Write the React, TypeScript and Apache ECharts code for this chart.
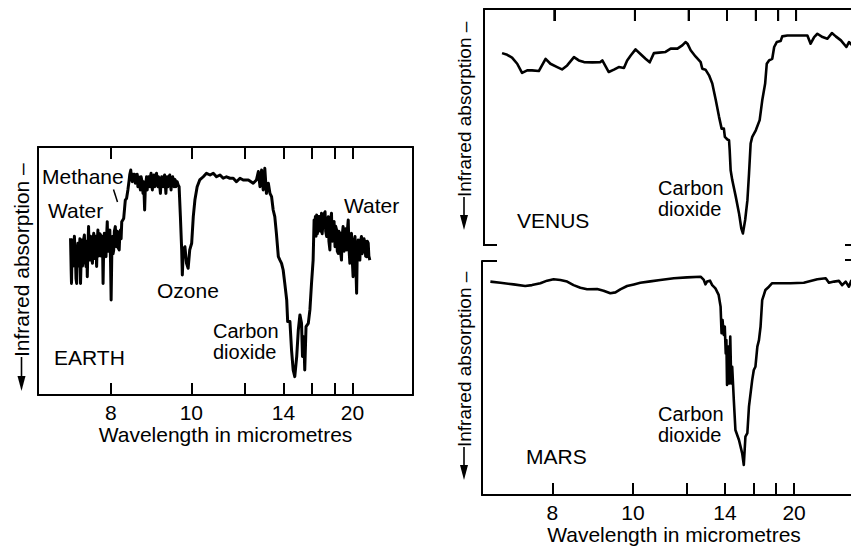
import React, { useEffect, useRef } from "react";
import * as echarts from "echarts";

// x values are wavenumbers (cm^-1); axis labels show wavelength in micrometres
const tickWavelengths = [8, 10, 12, 14, 16, 18, 20];
const labelWavelengths = [8, 10, 14, 20];

// relative signal (0 = bottom of panel, 100 = top); down = more absorption
const earthSpectrum: [number, number][] = [
  [1375, 63.2], [1373, 50], [1372, 45.0], [1370, 60], [1369, 62.5], [1367, 52], [1365, 54.4], [1363, 64],
  [1361, 63.9], [1359, 52], [1358, 47], [1356, 45.0], [1354, 58], [1352, 61.2], [1350, 52], [1348, 55.8],
  [1346, 63], [1344, 45.0], [1342, 55], [1340, 62.5], [1338, 52], [1336, 54.4], [1334, 63], [1332, 64.5],
  [1330, 56], [1327, 51.8], [1325, 62], [1323, 47.7], [1321, 60], [1319, 67.9], [1317, 56], [1315, 54.4],
  [1313, 64], [1311, 62.5], [1309, 55], [1307, 53.1], [1305, 63], [1303, 65.2], [1301, 55], [1299, 58.5],
  [1297, 64], [1294, 51.8], [1292, 62], [1290, 66.5], [1288, 56], [1286, 57.1], [1284, 65], [1282, 64.5],
  [1280, 56], [1278, 58.5], [1276, 64], [1274, 45.0], [1272, 60], [1270, 65.2], [1268, 57], [1265, 55.8],
  [1263, 64], [1261, 69.9], [1259, 58], [1257, 61.2], [1255, 66], [1253, 66.5], [1251, 55], [1249, 38.3],
  [1247, 56], [1245, 63.9], [1243, 57], [1241, 58.5], [1239, 66], [1236, 67.9], [1234, 60], [1232, 59.8],
  [1230, 66], [1228, 65.2], [1226, 59], [1224, 58.5], [1222, 65], [1220, 66.5], [1218, 63], [1216, 69.9],
  [1210, 71.2], [1205, 78.6], [1201, 79.3], [1197, 82.7],
  [1193, 86.7], [1191, 89], [1188, 90.7], [1186, 87], [1183, 86.0], [1181, 89], [1178, 87.4], [1176, 89],
  [1174, 85.4], [1172, 88.5], [1170, 86.7], [1168, 89], [1166, 84.0], [1164, 88], [1162, 87.4], [1160, 84],
  [1158, 82.7], [1156, 88], [1154, 86.7], [1152, 84], [1150, 81.3], [1148, 86], [1145, 74.6], [1143, 83],
  [1141, 85.4], [1139, 88], [1137, 82.7], [1135, 87], [1133, 88.0], [1131, 85], [1129, 84.0], [1127, 88],
  [1125, 89.4], [1123, 85], [1121, 82.7], [1119, 87], [1116, 88.7], [1114, 84], [1112, 85.4], [1110, 88],
  [1108, 89.4], [1106, 85], [1104, 84.0], [1102, 88], [1100, 87.4], [1098, 84], [1096, 81.3], [1094, 86],
  [1092, 88.0], [1090, 85], [1087, 84.0], [1085, 88], [1083, 88.7], [1081, 85], [1079, 81.3], [1077, 86],
  [1075, 88.0], [1073, 84], [1071, 85.4], [1069, 88], [1067, 88.7], [1065, 85], [1063, 82.7], [1061, 87],
  [1058, 88.0], [1056, 85], [1054, 84.0], [1052, 87], [1050, 86.7], [1048, 84], [1046, 85.4], [1044, 86],
  [1041, 84.7], [1038, 84.0], [1034, 71.9], [1030, 58.5],
  [1028, 48.4], [1025, 58.5], [1020, 59.8], [1015, 53.1], [1010, 51.1], [1005, 58.5], [999, 61.2],
  [994, 71.9], [989, 78.6], [982, 84.0], [974, 86.7], [963, 88.0], [953, 89.4], [942, 88.7],
  [932, 89.4], [922, 88.0], [911, 88.7], [901, 87.4], [891, 88.0], [880, 87.4], [870, 87.4],
  [860, 86.0], [849, 87.4], [839, 86.7], [823, 86.7], [808, 85.4], [798, 86.7], [792, 90.1],
  [787, 84.0], [782, 90.7], [777, 82.7], [772, 91.4], [767, 81.3], [761, 85.4], [756, 81.3],
  [751, 80.0], [746, 74.6], [741, 71.9], [736, 65.2], [730, 55.8], [725, 54.4], [720, 53.1],
  [715, 50.4], [710, 45.0], [704, 38.3], [701, 29.6], [694, 29.6], [689, 18.1], [684, 10.1],
  [679, 7.4], [673, 15.5], [668, 26.2], [663, 32.3], [658, 28.9], [655, 15.5], [651, 23.5],
  [648, 10.1], [644, 27.6], [637, 28.9], [632, 34.3], [627, 45.0], [622, 54.4],
  [619, 70.6], [617, 66], [615, 72], [613, 64], [611, 72.6], [609, 65], [606, 67.9], [604, 72],
  [601, 71.9], [599, 66], [596, 73.3], [594, 65], [591, 69.9], [588, 73], [585, 73.9], [583, 66],
  [580, 63.9], [578, 70], [575, 71.9], [573, 62], [570, 58.5], [568, 70], [565, 73.3], [563, 62],
  [560, 65.2], [557, 70], [554, 59.8], [552, 68], [549, 66.5], [547, 58], [544, 57.1], [542, 66],
  [539, 65.2], [537, 58], [534, 54.4], [532, 64], [529, 67.9], [526, 58], [523, 60.0], [521, 67],
  [518, 58.5], [516, 66], [513, 70.6], [511, 60], [508, 53.1], [506, 64], [503, 65.2], [501, 56],
  [498, 47.7], [495, 62], [492, 63.9], [490, 55], [487, 41.0], [485, 58], [482, 62.5], [480, 56],
  [477, 54.4], [475, 62], [472, 63.9], [470, 57], [466, 58.5], [464, 63], [461, 61.2], [459, 56],
  [456, 55.8], [454, 62], [451, 61.2], [449, 56], [446, 54.4],
];

const venusSpectrum: [number, number][] = [
  [1412, 81.3], [1396, 80.6], [1381, 79.4], [1365, 76.8], [1350, 72.9], [1334, 74.0], [1319, 74.0],
  [1298, 73.7], [1277, 78.9], [1262, 76.8], [1241, 75.4], [1226, 74.4], [1210, 76.1], [1189, 79.6],
  [1174, 78.2], [1158, 77.5], [1132, 77.4], [1107, 77.5], [1101, 78.2], [1081, 73.3], [1065, 74.3],
  [1050, 75.4], [1034, 75.0], [1024, 78.2], [1013, 80.3], [998, 82.9], [982, 80.8], [967, 78.9],
  [954, 77.4], [941, 81.3], [925, 81.5], [905, 81.8], [889, 83.2], [868, 83.2], [853, 84.6],
  [843, 86.0], [837, 85.3], [827, 82.5], [812, 79.9], [796, 77.5], [791, 74.7], [781, 74.3],
  [770, 71.9], [760, 68.4], [749, 61.3], [739, 54.3], [731, 49.3], [724, 49.3], [721, 45.8],
  [713, 44.7], [708, 44.4], [706, 40.2], [703, 31.7], [698, 27.5], [687, 20.4], [677, 13.4],
  [670, 7.1], [665, 4.9], [658, 10.6], [651, 19.0], [646, 30.3], [641, 43.0], [636, 45.8],
  [625, 48.6], [613, 52.9], [605, 61.3], [596, 68.4], [591, 76.8], [584, 78.2], [574, 78.9],
  [568, 83.9], [560, 86.0], [548, 86.4], [543, 88.4], [527, 88.8], [511, 88.8], [480, 88.8],
  [465, 88.8], [455, 85.3], [444, 88.1], [434, 89.5], [418, 88.1], [403, 87.4], [389, 89.8],
  [377, 88.4], [361, 86.7], [344, 83.9], [336, 86.0], [325, 84.5],
];

const marsSpectrum: [number, number][] = [
  [1442, 91.2], [1411, 90.7], [1370, 90.0], [1334, 89.3], [1313, 89.7], [1287, 90.5], [1266, 91.6],
  [1246, 92.2], [1225, 91.9], [1204, 91.2], [1184, 89.7], [1163, 88.6], [1142, 87.9], [1111, 88.0],
  [1091, 87.3], [1070, 86.2], [1054, 86.6], [1039, 87.9], [1018, 89.3], [997, 90.0], [977, 90.7],
  [946, 91.3], [915, 91.9], [873, 92.6], [832, 93.0], [790, 93.3], [780, 91.9], [775, 90.0],
  [770, 91.2], [761, 91.6], [754, 89.7], [744, 88.3], [734, 85.5], [728, 80.5], [725, 69.1],
  [722, 74.8], [718, 68.4], [715, 72.0], [712, 60.5], [710, 66.2], [708, 47.0], [704, 63.4],
  [701, 47.7], [698, 67.7], [695, 47.7], [692, 54.8], [687, 40.6], [682, 27.8], [671, 23.5],
  [661, 17.8], [656, 12.8], [651, 24.9], [645, 26.4], [640, 37.8], [630, 49.1], [625, 53.4],
  [620, 54.8], [614, 63.4], [609, 66.2], [604, 72.0], [599, 83.3], [589, 87.6], [578, 89.0],
  [568, 90.5], [552, 90.5], [511, 90.5], [470, 90.7], [428, 92.2], [402, 92.6], [392, 90.7],
  [376, 91.2], [361, 91.5], [351, 89.7], [340, 91.2], [330, 89.0], [322, 91.9],
];

const FONT = '"Liberation Sans", Arial, Helvetica, sans-serif';
const AXIS_NAME_X = "Wavelength in micrometres";
const AXIS_NAME_Y = "Infrared absorption \u2013";

const lineStyle = { color: "#000", width: 2 };

const VENUS = { left: 484, top: 9, width: 384, height: 236, min: 277, max: 1468 };

function xAxis(
  gridIndex: number, min: number, max: number, position: string,
  showLabels: boolean, nameGap = 26, showLine = true,
) {
  return {
    type: "value",
    gridIndex,
    min,
    max,
    inverse: true,
    position,
    axisLine: { show: showLine, onZero: false, lineStyle },
    axisTick: {
      show: showLine,
      inside: true,
      length: 12,
      customValues: tickWavelengths.map((w) => 10000 / w),
      lineStyle,
    },
    axisLabel: {
      show: showLabels,
      customValues: labelWavelengths.map((w) => 10000 / w),
      formatter: (v: number) => String(Math.round(10000 / v)),
      color: "#000",
      fontSize: 21,
      fontFamily: FONT,
      margin: 7,
    },
    splitLine: { show: false },
    name: showLabels ? AXIS_NAME_X : "",
    nameLocation: "middle",
    nameGap,
    nameTextStyle: { color: "#000", fontSize: 21, fontFamily: FONT },
  };
}

function yAxis(gridIndex: number, position: string) {
  return {
    type: "value",
    gridIndex,
    min: 0,
    max: 100,
    position,
    axisLine: { show: true, onZero: false, lineStyle },
    axisTick: { show: false },
    axisLabel: { show: false },
    splitLine: { show: false },
  };
}

function label(text: string, x: number, y: number, size = 21) {
  return {
    type: "text",
    x,
    y,
    z: 100,
    style: {
      text,
      fill: "#000",
      fontSize: size,
      fontFamily: FONT,
      textAlign: "left",
      textVerticalAlign: "middle",
    },
  };
}

function seg(x1: number, y1: number, x2: number, y2: number, w = 2) {
  return {
    type: "line",
    z: 100,
    shape: { x1, y1, x2, y2 },
    style: { stroke: "#000", lineWidth: w },
  };
}

// vertical y-axis title reading bottom-to-top, with a downward arrow below it
function yTitle(x: number, yStart: number, size: number, arrowLen: number) {
  return [
    {
      type: "text",
      x,
      y: yStart,
      rotation: Math.PI / 2,
      z: 100,
      style: {
        text: AXIS_NAME_Y,
        fill: "#000",
        fontSize: size,
        fontFamily: FONT,
        textAlign: "left",
        textVerticalAlign: "middle",
      },
    },
    seg(x, yStart, x, yStart + arrowLen - 12, 1.6),
    {
      type: "polygon",
      z: 100,
      shape: {
        points: [
          [x - 4, yStart + arrowLen - 15],
          [x + 4, yStart + arrowLen - 15],
          [x, yStart + arrowLen],
        ],
      },
      style: { fill: "#000" },
    },
  ];
}

// Venus top-edge ticks, from the same axis extent used by the Venus grid
const venusTicks = tickWavelengths.map((w) => {
  const wn = 10000 / w;
  const px = VENUS.left + ((VENUS.max - wn) / (VENUS.max - VENUS.min)) * VENUS.width;
  return {
    type: "rect",
    z: 200,
    shape: { x: px - 1, y: VENUS.top + 1, width: 2, height: 11 },
    style: { fill: "#000" },
  };
});

export default function App() {
  const ref = useRef<HTMLDivElement>(null);

  useEffect(() => {
    document.body.style.margin = "0";
    if (!ref.current) return;
    const chart = echarts.init(ref.current, null, { renderer: "svg" });
    const series = (data: [number, number][], xIdx: number, yIdx: number, width: number) => ({
      type: "line",
      xAxisIndex: xIdx,
      yAxisIndex: yIdx,
      data,
      showSymbol: false,
      symbol: "none",
      clip: true,
      lineStyle: { color: "#000", width, join: "round" },
    });
    const gridBase = { outerBoundsMode: "none", containLabel: false };
    chart.setOption({
      animation: false,
      backgroundColor: "#fff",
      textStyle: { fontFamily: FONT },
      grid: [
        { ...gridBase, left: 38, top: 147, width: 375, height: 248 },
        { ...gridBase, left: VENUS.left, top: VENUS.top, width: VENUS.width, height: VENUS.height },
        { ...gridBase, left: 482, top: 261, width: 384, height: 234 },
      ],
      xAxis: [
        xAxis(0, 312, 1476, "bottom", true, 27),
        xAxis(1, VENUS.min, VENUS.max, "bottom", false, 26, false),
        xAxis(2, 277, 1468, "bottom", true, 24),
        xAxis(0, 312, 1476, "top", false),
        xAxis(1, VENUS.min, VENUS.max, "top", false),
      ],
      yAxis: [
        yAxis(0, "left"),
        yAxis(1, "left"),
        yAxis(2, "left"),
        yAxis(0, "right"),
      ],
      series: [
        series(earthSpectrum, 0, 0, 3),
        series(venusSpectrum, 1, 1, 2.6),
        series(marsSpectrum, 2, 2, 2.6),
      ],
      graphic: [
        label("Methane", 42, 176.5),
        seg(113.5, 189.5, 117.5, 202, 1.5),
        label("Water", 48, 210.5),
        label("Ozone", 157, 290),
        label("Carbon", 213, 331, 20),
        label("dioxide", 213, 352, 20),
        label("EARTH", 54, 357),
        label("Water", 344, 205),
        label("Carbon", 658, 188, 20),
        label("dioxide", 658, 209, 20),
        label("VENUS", 517, 220),
        label("Carbon", 658, 413.5, 20),
        label("dioxide", 658, 435, 20),
        label("MARS", 526, 456.5),
        ...yTitle(21.5, 357, 21, 34),
        ...yTitle(464, 197, 19, 33),
        ...yTitle(464, 447, 19, 33),
        seg(483, 245, 497, 245),
        seg(482, 261, 497, 261),
        seg(845, 245, 852, 245),
        seg(845, 260, 852, 260),
        ...venusTicks,
      ],
    });
    return () => chart.dispose();
  }, []);

  return (
    <div
      ref={ref}
      style={{ position: "absolute", left: 0, top: 0, width: 851, height: 546, background: "#fff" }}
    />
  );
}
